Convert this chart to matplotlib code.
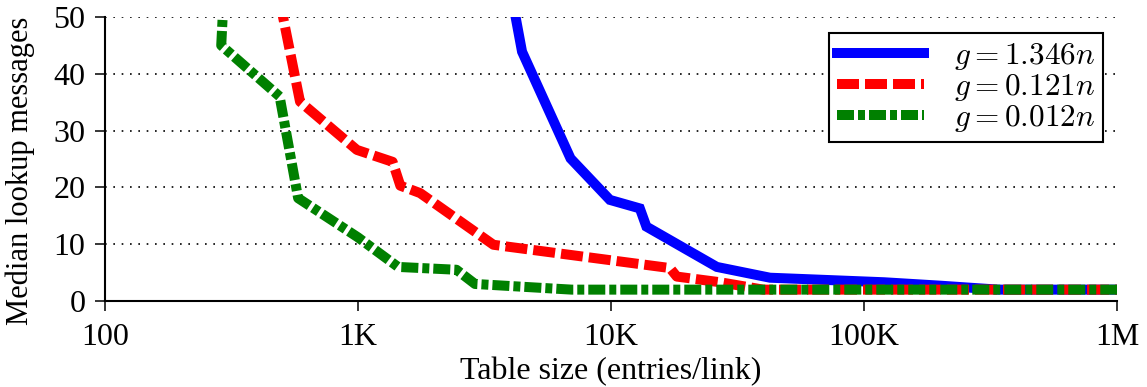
import numpy as np
import matplotlib.pyplot as plt

plt.rcParams['font.family'] = ['Liberation Serif', 'DejaVu Serif']
plt.rcParams['mathtext.fontset'] = 'cm'

# median lookup messages vs. table size, one curve per g
blue_x = [4000, 4450, 6920, 9900, 13000, 13800, 26200, 42500, 120000, 200000, 340000, 1000000]
blue_y = [55, 43.9, 25.1, 17.8, 16.3, 13.1, 6.0, 4.1, 3.3, 2.7, 2.0, 2.0]

red_x = [490, 590, 990, 1370, 1470, 1760, 3430, 17100, 18200, 27000, 40000, 1000000]
red_y = [53, 35.1, 26.6, 24.5, 20.3, 19.0, 9.9, 5.8, 4.3, 3.3, 2.0, 2.0]

green_x = [298, 288, 490, 580, 1000, 1440, 2450, 2900, 4500, 7000, 1000000]
green_y = [58, 45, 36, 18.1, 11.2, 6.0, 5.5, 3.0, 2.5, 2.0, 2.0]

labels = [r'$g=1.346n$', r'$g=0.121n$', r'$g=0.012n$']
xticks = [100, 1000, 10000, 100000, 1000000]
xticklabels = ['100', '1K', '10K', '100K', '1M']
yticks = [0, 10, 20, 30, 40, 50]

fig = plt.figure(figsize=(11.47, 3.87), dpi=100)
ax = fig.add_axes([105/1147, 1-301/387, 1012/1147, 284/387])

lw = 7.2
ax.plot(blue_x, blue_y, color='blue', lw=lw, solid_joinstyle='miter', label=labels[0])
l2, = ax.plot(red_x, red_y, color='red', lw=lw, label=labels[1])
l2.set_dashes((2.2, 0.6))
l3, = ax.plot(green_x, green_y, color='green', lw=lw, label=labels[2])
l3.set_dashes((1.7, 0.4, 0.7, 0.4))

ax.set_xscale('log')
ax.set_xlim(100, 1000000)
ax.set_ylim(0, 50)
ax.set_xticks(xticks)
ax.set_xticklabels(xticklabels)
ax.minorticks_off()
ax.set_yticks(yticks)
ax.yaxis.grid(True, linestyle=(0, (1, 4)), linewidth=1.2, color='k')

for s in ['top', 'right']:
    ax.spines[s].set_visible(False)
for s in ['left', 'bottom']:
    ax.spines[s].set_linewidth(1.5)
ax.tick_params(direction='out', length=7, width=1.1, labelsize=23)
ax.tick_params(axis='x', pad=8.5)
ax.tick_params(axis='y', pad=7)

ax.set_xlabel('Table size (entries/link)', fontsize=23, labelpad=4)
ax.set_ylabel('Median lookup messages', fontsize=22)
ax.yaxis.set_label_coords(-0.069, 0.458)

leg = ax.legend(loc='upper right', bbox_to_anchor=(0.986, 0.944), borderaxespad=0,
                fontsize=22.5, fancybox=False, framealpha=1, edgecolor='k',
                handlelength=2.8, handletextpad=0.95, labelspacing=0.0,
                borderpad=0.25)
leg.get_frame().set_linewidth(1.5)

fig.savefig('out.png', dpi=100)
